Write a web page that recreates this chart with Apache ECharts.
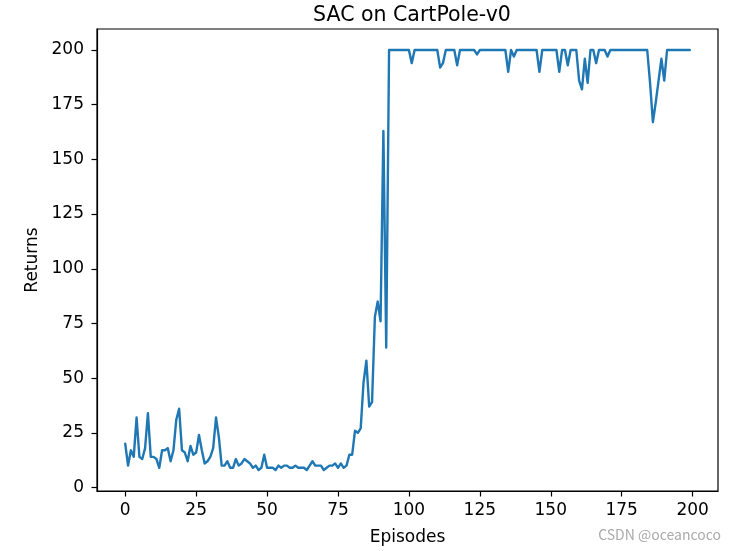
<!DOCTYPE html>
<html>
<head>
<meta charset="utf-8">
<script src="https://cdn.jsdelivr.net/npm/echarts@6/dist/echarts.min.js"></script>
<style>
html,body{margin:0;padding:0;background:#fff;}
#chart{width:736px;height:551px;}
</style>
</head>
<body>
<div id="chart"></div>
<script>
var returns = [
  20,10,17,14,32,14,13,18,34,14,
  14,13,9,17,17,18,12,17,31,36,
  17,16,12,19,15,16,24,17,11,12,
  14,18,32,23,10,10,12,9,9,13,
  10,11,13,12,11,9,10,8,9,15,
  9,9,9,8,10,9,10,10,9,9,
  10,9,9,9,8,10,12,10,10,10,
  8,9,10,10,11,9,11,9,10,15,
  15,26,25,27,48,58,37,39,78,85,
  76,163,64,200,200,200,200,200,200,200,
  200,194,200,200,200,200,200,200,200,200,
  200,192,194,200,200,200,200,193,200,200,
  200,200,200,200,198,200,200,200,200,200,
  200,200,200,200,200,190,200,197,200,200,
  200,200,200,200,200,200,190,200,200,200,
  200,200,200,190,200,200,193,200,200,200,
  186,182,196,185,200,200,194,200,200,200,
  197,200,200,200,200,200,200,200,200,200,
  200,200,200,200,200,185,167,176,186,196,
  186,200,200,200,200,200,200,200,200,200
];
var xTicks = [0,25,50,75,100,125,150,175,200];
var yTicks = [0,25,50,75,100,125,150,175,200];

var points = returns.map(function(v,i){ return [i, v]; });
var font = 'DejaVu Sans';
var chart = echarts.init(document.getElementById('chart'), null, {renderer:'canvas'});
chart.setOption({
  animation:false,
  backgroundColor:'#ffffff',
  title:{
    text:'SAC on CartPole-v0',
    left:407, top:0, textAlign:'center',
    textStyle:{fontFamily:font,fontSize:20.5,fontWeight:'normal',color:'#000'}
  },
  grid:{left:97,right:18,top:29,bottom:60,show:true,borderColor:'#000',borderWidth:1.2,backgroundColor:'transparent'},
  xAxis:{
    type:'value', min:-9.95, max:208.95,
    name:'Episodes', nameLocation:'middle', nameGap:38,
    nameTextStyle:{fontFamily:font,fontSize:17,color:'#000'},
    axisLine:{show:true,onZero:false,lineStyle:{color:'#000',width:1.2}},
    axisTick:{show:true,customValues:xTicks,length:5.5,lineStyle:{color:'#000',width:1.2}},
    axisLabel:{customValues:xTicks,fontFamily:font,fontSize:17,color:'#000',margin:11},
    splitLine:{show:false}
  },
  yAxis:{
    type:'value', min:-1.6, max:209.6,
    name:'Returns', nameLocation:'middle', nameGap:51,
    nameTextStyle:{fontFamily:font,fontSize:17,color:'#000'},
    axisLine:{show:true,onZero:false,lineStyle:{color:'#000',width:1.2}},
    axisTick:{show:true,customValues:yTicks,length:5.5,lineStyle:{color:'#000',width:1.2}},
    axisLabel:{customValues:yTicks,fontFamily:font,fontSize:17,color:'#000',margin:13},
    splitLine:{show:false}
  },
  series:[{
    type:'line', data:points, showSymbol:false, symbol:'none',
    lineStyle:{color:'#1f77b4',width:2.4,join:'round',cap:'round'},
    clip:true
  }],
  graphic:[{
    type:'text', right:15, top:528,
    style:{text:'CSDN @oceancoco',fontFamily:'Noto Sans CJK SC, DejaVu Sans',fontSize:14,fill:'#aaaaaa'}
  }]
});
</script>
</body>
</html>
